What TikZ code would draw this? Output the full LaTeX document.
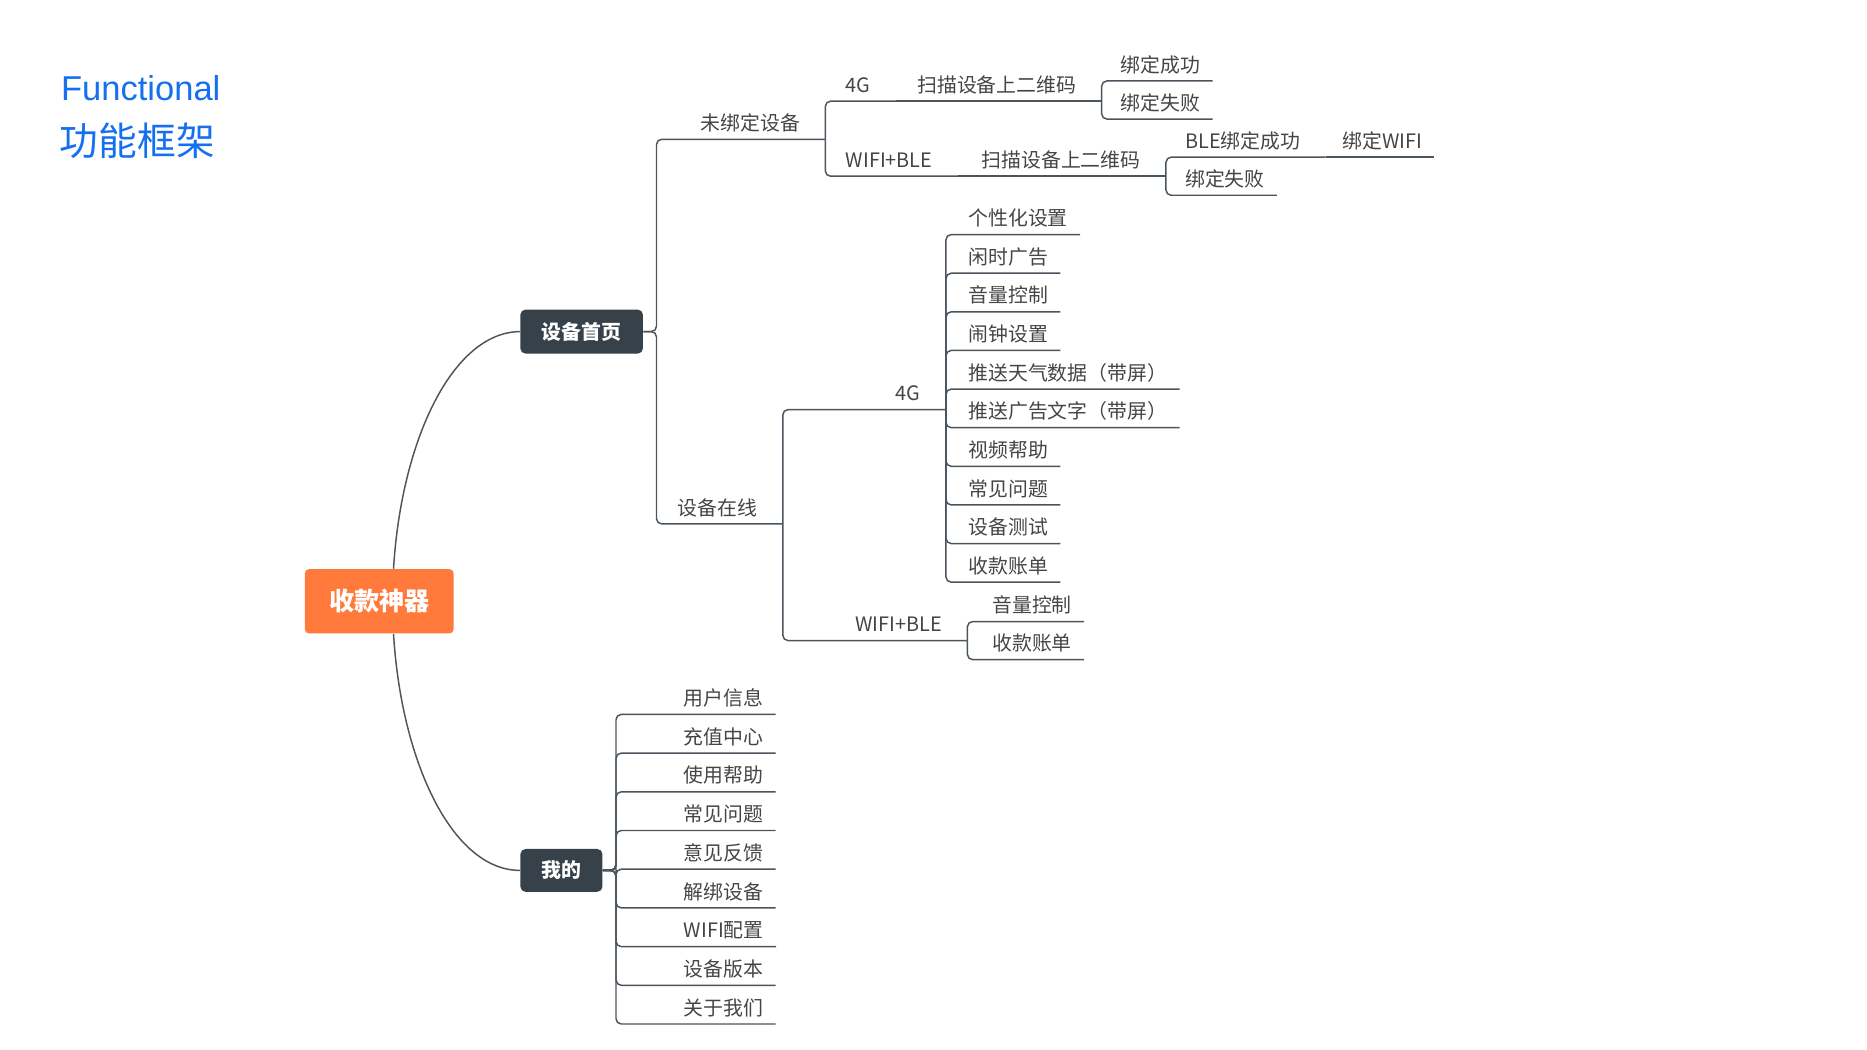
\documentclass[tikz,border=0pt]{standalone}
\usepackage{fontspec}
\setmainfont{Noto Sans CJK SC}
\newfontfamily\latintitle{Liberation Sans}
\definecolor{mapline}{HTML}{4B555E}
\definecolor{maptext}{HTML}{454545}
\definecolor{topicdark}{HTML}{36414A}
\definecolor{rootorange}{HTML}{FF7A3B}
\definecolor{titleblue}{HTML}{1570EF}
\tikzset{
  leaf/.style={anchor=south west, inner xsep=0.2cm, inner ysep=0.1cm, text=maptext,
    font=\fontsize{9.5}{11}\selectfont, text height=0.8em, text depth=0.12em},
  branch/.style={leaf, inner xsep=0.42cm},
  topic/.style={fill=topicdark, text=white, rounded corners=2.5pt, inner sep=0pt,
    font=\bfseries\fontsize{9.5}{11}\selectfont},
  link/.style={draw=mapline, line width=0.7pt, rounded corners=2.5pt}
}
\begin{document}
\begin{tikzpicture}[x=0.02cm,y=-0.02cm]
\useasboundingbox (0,0) rectangle (1568,881.6);
% title
\node[anchor=base west, inner sep=0pt, text=titleblue, font=\latintitle\fontsize{16.5}{18}\selectfont] (ttlen) at (51,84) {Functional};
\node[anchor=base west, inner sep=0pt, text=titleblue, font=\fontsize{18.5}{20}\selectfont] (ttlzh) at (50,131) {功能框架};
% root and main topics
\node[fill=rootorange, text=white, rounded corners=2pt, minimum width=2.5cm, minimum height=1.08cm,
  font=\bfseries\fontsize{12}{14}\selectfont] (root) at (318.5,505) {收款神器};
\node[topic, minimum width=2.06cm, minimum height=0.74cm] (home) at (488.5,278.5) {设备首页};
\node[topic, minimum width=1.38cm, minimum height=0.72cm] (mine) at (471.5,731) {我的};
\draw[link] ([xshift=0.24cm]root.north) .. controls (337,370) and (380,279) .. (home.west);
\draw[link] ([xshift=0.24cm]root.south) .. controls (337,640) and (380,731) .. (mine.west);
% 设备首页
\node[branch] (unbound) at (567,117) {未绑定设备};
\node[branch] (online) at (548,440) {设备在线};
\draw[link] (home.east) -- ++(11,0) |- (unbound.south east);
\draw[link] (home.east) -- ++(11,0) |- (online.south east);
% 未绑定设备
\node[branch] (bind4g) at (689,85) {4G};
\node[branch] (scan4g) at (749,85) {扫描设备上二维码};
\node[leaf] (ok4g) at (931,68) {绑定成功};
\node[leaf] (fail4g) at (931,100) {绑定失败};
\draw[link] (unbound.south east) |- (bind4g.south east);
\draw[link] (bind4g.south east) -- (scan4g.south east);
\draw[link] (scan4g.south east) |- (ok4g.south east);
\draw[link] (scan4g.south east) |- (fail4g.south east);
\node[branch] (bindwb) at (689,148) {WIFI+BLE};
\node[branch] (scanwb) at (803,148) {扫描设备上二维码};
\node[branch] (blewb) at (974,132) {BLE绑定成功};
\node[leaf] (wifiwb) at (1117,132) {绑定WIFI};
\node[leaf] (failwb) at (985,164) {绑定失败};
\draw[link] (unbound.south east) |- (bindwb.south east);
\draw[link] (bindwb.south east) -- (scanwb.south east);
\draw[link] (scanwb.south east) |- (blewb.south east);
\draw[link] (blewb.south east) -- (wifiwb.south east);
\draw[link] (scanwb.south east) |- (failwb.south east);
% 设备在线
\node[branch] (online4g) at (731,344) {4G};
\node[branch] (onlinewb) at (697,538) {WIFI+BLE};
\draw[link] (online.south east) |- (online4g.south east);
\draw[link] (online.south east) |- (onlinewb.south east);
\foreach \txt [count=\i from 0] in {个性化设置,闲时广告,音量控制,闹钟设置,推送天气数据（带屏）,推送广告文字（带屏）,视频帮助,常见问题,设备测试,收款账单}
{
  \node[leaf] (func\i) at (803,{197+32.44*\i}) {\txt};
  \draw[link] (online4g.south east) |- (func\i.south east);
}
\node[leaf] (volwb) at (823,522) {音量控制};
\node[leaf] (billwb) at (823,554) {收款账单};
\draw[link] (onlinewb.south east) |- (volwb.south east);
\draw[link] (onlinewb.south east) |- (billwb.south east);
% 我的
\foreach \txt [count=\i from 0] in {用户信息,充值中心,使用帮助,常见问题,意见反馈,解绑设备,WIFI配置,设备版本,关于我们}
{
  \node[leaf] (my\i) at (564,{600+32.5*\i}) {\txt};
  \draw[link] (mine.east) -- ++(11,0) |- (my\i.south east);
}
\end{tikzpicture}
\end{document}
